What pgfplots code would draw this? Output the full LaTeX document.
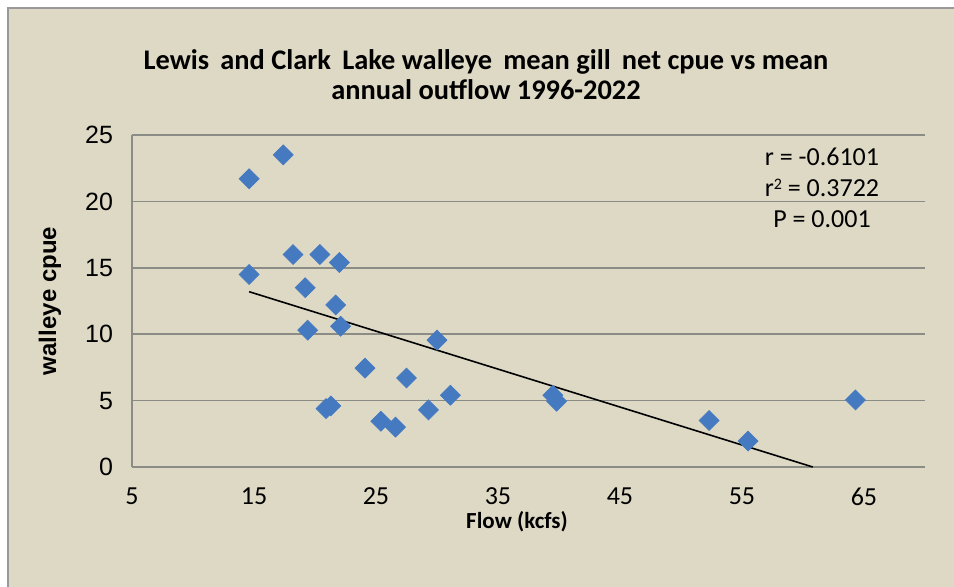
\documentclass[border=0pt]{standalone}
\usepackage{fontspec}
\setmainfont{Carlito}
\newfontfamily\arialf{Liberation Sans}
\usepackage{pgfplots}
\pgfplotsset{compat=1.18}
\definecolor{chartbg}{RGB}{222,217,197}
\definecolor{gridgray}{RGB}{140,140,134}
\definecolor{markblue}{RGB}{70,122,192}

\pgfplotstableread{
x y
14.6 21.7
17.4 23.5
14.6 14.5
18.2 16.0
20.4 16.0
22.0 15.4
19.2 13.5
21.7 12.2
19.4 10.3
22.1 10.6
24.1 7.45
27.5 6.7
20.9 4.4
21.3 4.6
25.4 3.45
26.6 3.0
29.3 4.3
30.0 9.55
31.1 5.4
39.5 5.4
39.8 4.95
52.3 3.5
55.5 1.95
64.3 5.05
}\cpuedata

\begin{document}
\begin{tikzpicture}
% picture frame: 1 px of the reference = 0.5pt
\useasboundingbox (-66pt,-60pt) rectangle (411pt,233.5pt);
\fill[white] (-66pt,-60pt) rectangle (411pt,233.5pt);
\fill[chartbg] (-62pt,-70pt) rectangle (420pt,229.5pt);
\draw[gray!80, line width=0.9pt] (-62pt,-70pt) -- (-62pt,229.5pt) -- (420pt,229.5pt);
\begin{axis}[
    at={(0,0)}, anchor=origin,
    scale only axis,
    width=396.5pt, height=166pt,
    xmin=5, xmax=70, ymin=0, ymax=25,
    xtick={5,15,...,65}, ytick={0,5,...,25},
    axis x line*=bottom, axis y line*=left,
    axis line style={gridgray, line width=0.8pt, -},
    tick style={draw=none},
    ymajorgrids, grid style={gridgray, line width=0.8pt},
    x tick label style={font=\fontsize{13}{15}\selectfont, yshift=-7pt},
    y tick label style={font=\arialf\fontsize{12.5}{14}\selectfont, xshift=-6pt},
    /pgf/number format/assume math mode=true,
    clip=false,
]
\addplot[only marks, mark=square*, mark size=3.5pt,
    mark options={rotate=45, fill=markblue, draw=markblue}]
    table[x=x, y=y] {\cpuedata};
\addplot[black, line width=0.8pt] coordinates {(14.6,13.2) (60.8,0)};
\end{axis}
% titles and labels
\node[font=\bfseries\fontsize{14.2}{16}\selectfont, align=center] at (177pt,196pt)
    {Lewis \,and Clark \,Lake walleye \,mean gill \,net cpue vs mean\\[-1pt]annual outflow 1996-2022};
\node[font=\bfseries\fontsize{11.5}{14}\selectfont] at (192.5pt,-27.5pt) {Flow (kcfs)};
\node[font=\arialf\bfseries\fontsize{12}{14}\selectfont, rotate=90] at (-41pt,83pt) {walleye cpue};
\node[font=\fontsize{13}{15}\selectfont] at (345pt,155pt) {r = -0.6101};
\node[font=\fontsize{13}{15}\selectfont] at (345pt,139.5pt) {r\raisebox{0.55ex}{\fontsize{8}{9}\selectfont 2} = 0.3722};
\node[font=\fontsize{13}{15}\selectfont] at (345pt,124pt) {P = 0.001};
\end{tikzpicture}
\end{document}
